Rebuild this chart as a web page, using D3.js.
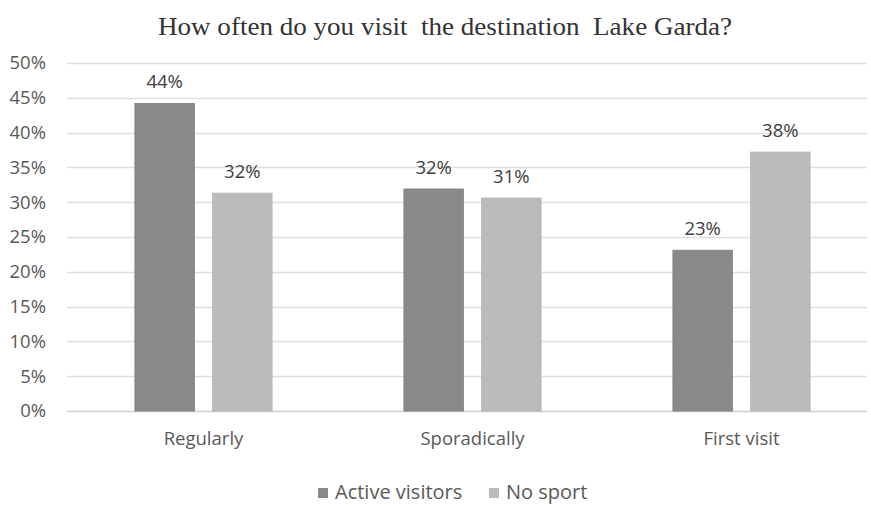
<!DOCTYPE html>
<html>
<head>
<meta charset="utf-8">
<script src="https://cdn.jsdelivr.net/npm/d3@7"></script>
<style>
  body { margin: 0; background: #fff; }
  svg text { font-family: "Open Sans", "Noto Sans", sans-serif; }
</style>
</head>
<body>
<div id="chart"></div>
<script>
// ── Data ─────────────────────────────────────────────────────────────────────
const categories = ['Regularly', 'Sporadically', 'First visit'];
const seriesNames = ['Active visitors', 'No sport'];
const activeVisitors = [0.442, 0.319, 0.231];
const noSport = [0.313, 0.306, 0.372];
const activeLabels = ['44%', '32%', '23%'];
const noSportLabels = ['32%', '31%', '38%'];
const yTicks = [0, 0.05, 0.10, 0.15, 0.20, 0.25, 0.30, 0.35, 0.40, 0.45, 0.50];

const colors = ['#898989', '#bbbbbb'];
const FS = '18.5px';

// ── Layout ───────────────────────────────────────────────────────────────────
const W = 871, H = 505;
const plotL = 69, plotR = 876, plotT = 63, plotB = 411;

const svg = d3.select('#chart').append('svg')
  .attr('width', W)
  .attr('height', H);

const x = d3.scaleBand()
  .domain(categories)
  .range([plotL, plotR])
  .paddingInner(0.49)
  .paddingOuter(0.245);

const xs = d3.scaleBand()
  .domain(seriesNames)
  .range([0, x.bandwidth()])
  .paddingInner(0.235);

const y = d3.scaleLinear()
  .domain([0, 0.5])
  .range([plotB, plotT]);

// ── Title ────────────────────────────────────────────────────────────────────
svg.append('text')
  .attr('x', 158)
  .attr('y', 35)
  .attr('textLength', 574)
  .attr('lengthAdjust', 'spacingAndGlyphs')
  .style('white-space', 'pre')
  .style('font-family', '"Liberation Serif", "Times New Roman", serif')
  .style('font-size', '26px')
  .attr('fill', '#333')
  .text('How often do you visit  the destination  Lake Garda?');

// ── Grid + y axis ────────────────────────────────────────────────────────────
svg.append('g')
  .selectAll('line')
  .data(yTicks)
  .enter().append('line')
  .attr('x1', 67)
  .attr('x2', 867)
  .attr('y1', d => Math.round(y(d)) + 0.5)
  .attr('y2', d => Math.round(y(d)) + 0.5)
  .attr('stroke', d => d === 0 ? '#cfcfcf' : '#dedede')
  .attr('stroke-width', 1.5);

const yAxis = svg.append('g')
  .attr('transform', 'translate(46,0)')
  .call(d3.axisLeft(y).tickValues(yTicks).tickFormat(d3.format('.0%')).tickSize(0));
yAxis.select('.domain').remove();
yAxis.selectAll('text')
  .attr('x', 0)
  .style('font-size', FS)
  .attr('fill', '#595959');

// ── Bars ─────────────────────────────────────────────────────────────────────
const rows = categories.map((c, i) => ({
  cat: c,
  values: [
    { s: seriesNames[0], v: activeVisitors[i], label: activeLabels[i] },
    { s: seriesNames[1], v: noSport[i], label: noSportLabels[i] }
  ]
}));

const groups = svg.append('g')
  .selectAll('g')
  .data(rows)
  .enter().append('g')
  .attr('transform', d => `translate(${x(d.cat)},0)`);

groups.selectAll('rect')
  .data(d => d.values)
  .enter().append('rect')
  .attr('x', d => xs(d.s))
  .attr('y', d => y(d.v))
  .attr('width', xs.bandwidth())
  .attr('height', d => y(0) - y(d.v))
  .attr('fill', (d, i) => colors[i])
  .attr('stroke', (d, i) => i === 0 ? '#7c7c7c' : '#b1b1b1')
  .attr('stroke-width', 0.8);

groups.selectAll('text.lbl')
  .data(d => d.values)
  .enter().append('text')
  .attr('class', 'lbl')
  .attr('x', d => xs(d.s) + xs.bandwidth() / 2)
  .attr('y', d => y(d.v) - 15)
  .attr('text-anchor', 'middle')
  .style('font-size', FS)
  .attr('fill', '#404040')
  .text(d => d.label);

// ── x axis labels ────────────────────────────────────────────────────────────
const xAxis = svg.append('g')
  .attr('transform', `translate(0,${plotB})`)
  .call(d3.axisBottom(x).tickSize(0));
xAxis.select('.domain').remove();
xAxis.selectAll('text')
  .attr('dy', 0)
  .attr('y', 34)
  .style('font-size', FS)
  .attr('fill', '#595959');

// ── Legend ───────────────────────────────────────────────────────────────────
const legendX = [318, 489];
const legend = svg.append('g')
  .selectAll('g')
  .data(seriesNames)
  .enter().append('g')
  .attr('transform', (d, i) => `translate(${legendX[i]},488)`);

legend.append('rect')
  .attr('width', 10)
  .attr('height', 10)
  .attr('fill', (d, i) => colors[i]);

legend.append('text')
  .attr('x', 17)
  .attr('y', 11)
  .style('font-size', '20px')
  .attr('fill', '#595959')
  .text(d => d);
</script>
</body>
</html>
